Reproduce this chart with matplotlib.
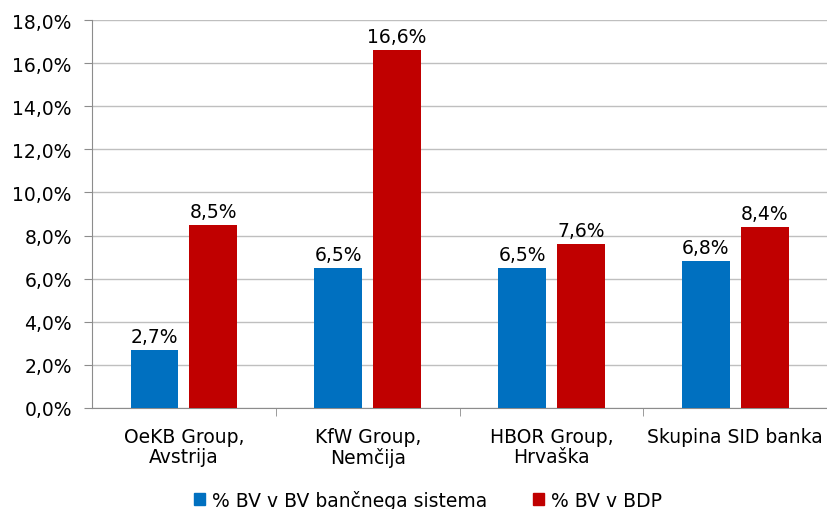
import matplotlib
matplotlib.use("Agg")
import matplotlib.pyplot as plt
import numpy as np
from matplotlib.patches import Patch

categories = ["OeKB Group,\nAvstrija", "KfW Group,\nNemčija", "HBOR Group,\nHrvaška", "Skupina SID banka"]
series_names = ["% BV v BV bančnega sistema", "% BV v BDP"]
bv_banking = [2.7, 6.5, 6.5, 6.8]
bv_gdp = [8.5, 16.6, 7.6, 8.4]
yticks = [0, 2, 4, 6, 8, 10, 12, 14, 16, 18]

blue = "#0070C0"
red = "#C00000"
fs = 13.5

plt.rcParams['font.family'] = ['DejaVu Sans']
fig = plt.figure(figsize=(8.28, 5.10), dpi=100)
ax = fig.add_axes([92/828, 1-409/510, 1-92/828-0.001, (409-21)/510])

x = np.arange(len(categories))
w = 0.26
off = 0.16
b1 = ax.bar(x - off, bv_banking, w, color=blue, zorder=3)
b2 = ax.bar(x + off, bv_gdp, w, color=red, zorder=3)

def fmt(v):
    return f"{v:.1f}%".replace(".", ",")

for bars, vals in ((b1, bv_banking), (b2, bv_gdp)):
    for r, v in zip(bars, vals):
        ax.annotate(fmt(v), (r.get_x() + r.get_width()/2, v), xytext=(0, 3),
                    textcoords="offset points", ha="center", va="bottom", fontsize=fs)

ax.set_xlim(-0.5, len(categories) - 0.5)
ax.set_ylim(0, 18)
ax.set_yticks(yticks)
ax.set_yticklabels([fmt(v) for v in yticks], fontsize=fs)
ax.yaxis.grid(True, color="#BFBFBF", linewidth=1, zorder=0)
ax.set_xticks(x)
ax.set_xticklabels(categories, fontsize=fs, linespacing=1.05)
ax.set_xticks(np.arange(0.5, len(categories) - 0.5, 1), minor=True)
ax.tick_params(axis="x", which="major", length=0, pad=14)
ax.tick_params(axis="x", which="minor", length=6, color="#8C8C8C")
ax.tick_params(axis="y", length=5.5, color="#8C8C8C", pad=9)
for s in ("top", "right"):
    ax.spines[s].set_visible(False)
for s in ("left", "bottom"):
    ax.spines[s].set_color("#8C8C8C")

handles = [Patch(color=blue), Patch(color=red)]
fig.legend(handles, series_names, loc="center", bbox_to_anchor=(428/828, 1-501/510),
           ncol=2, frameon=False, fontsize=fs, handlelength=0.6, handleheight=0.6,
           handletextpad=0.4, columnspacing=2.4)

fig.savefig("out.png", dpi=100)
